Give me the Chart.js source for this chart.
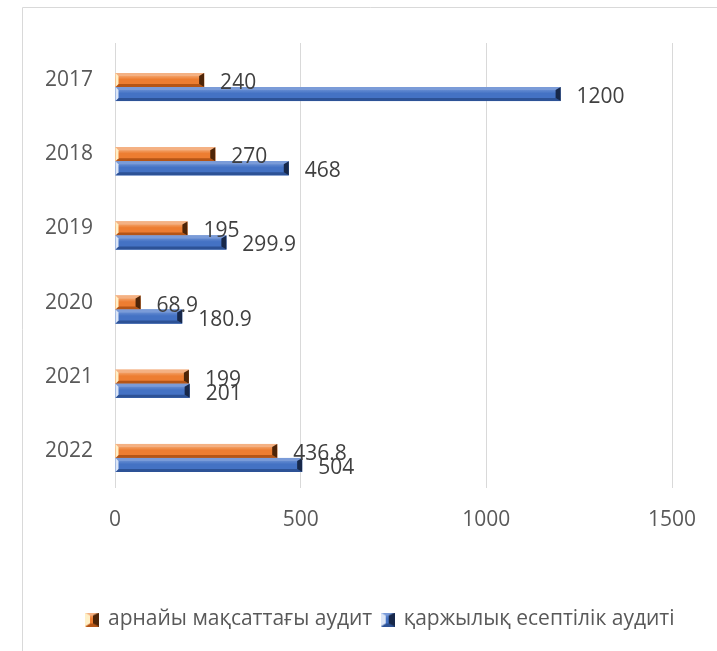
<!DOCTYPE html>
<html>
<head>
<meta charset="utf-8">
<script src="https://cdn.jsdelivr.net/npm/chart.js@4/dist/chart.umd.min.js"></script>
<style>
  html, body { margin: 0; padding: 0; background: #ffffff; }
  #wrap { width: 717px; height: 651px; position: relative; }
</style>
</head>
<body>
<div id="wrap"><canvas id="chart" width="717" height="651"></canvas></div>
<script>
// Audit counts by year
const years = ['2017', '2018', '2019', '2020', '2021', '2022'];
const specialAudit = [240, 270, 195, 68.9, 199, 436.8];
const financialAudit = [1200, 468, 299.9, 180.9, 201, 504];
const emptySlot = [null, null, null, null, null, null];
const xTicks = [0, 500, 1000, 1500];

const seriesNames = ['арнайы мақсаттағы аудит', 'қаржылық есептілік аудиті'];

// Bevel palettes: base, top face, bottom face, left face, right face
const orangeBevel = { base: '#ED7D31', light: '#F7BD92', top: '#F4B183', bottom: '#B55516', left: '#FFF0C8', right: '#4E2508' };
const blueBevel = { base: '#4472C4', light: '#7E9FDB', top: '#7A9BD8', bottom: '#2D5296', left: '#DCE6F7', right: '#17284A' };

function drawBevelRect(ctx, L, T, R, B, pal, dl, dr, dv) {
  const w = R - L;
  dl = Math.min(dl, w / 2); dr = Math.min(dr, w / 2);
  const iL = L + dl, iR = R - dr, iT = T + dv, iB = B - dv;
  // centre face with a soft vertical shading
  const g = ctx.createLinearGradient(0, T, 0, B);
  g.addColorStop(0, pal.light);
  g.addColorStop(0.45, pal.base);
  g.addColorStop(1, pal.base);
  ctx.fillStyle = g;
  ctx.fillRect(L, T, w, B - T);
  const poly = (pts, col) => {
    ctx.beginPath();
    ctx.moveTo(pts[0][0], pts[0][1]);
    for (let i = 1; i < pts.length; i++) ctx.lineTo(pts[i][0], pts[i][1]);
    ctx.closePath();
    ctx.fillStyle = col;
    ctx.fill();
  };
  poly([[L, T], [R, T], [iR, iT], [iL, iT]], pal.top);
  poly([[L, B], [R, B], [iR, iB], [iL, iB]], pal.bottom);
  poly([[L, T], [iL, iT], [iL, iB], [L, B]], pal.left);
  poly([[R, T], [iR, iT], [iR, iB], [R, B]], pal.right);
}

function legendMarker(pal) {
  const c = document.createElement('canvas');
  c.width = 14; c.height = 14;
  const ctx = c.getContext('2d');
  drawBevelRect(ctx, 0, 0, 14, 14, pal, 5, 6, 3);
  return c;
}

const palettes = [null, orangeBevel, blueBevel];

// Frame around the chart, and a legend box that starts right of the frame
const framePlugin = {
  id: 'frame',
  afterLayout(chart) {
    const lg = chart.legend;
    if (lg) { lg.left = 44; lg.right = 717; }
  },
  beforeDraw(chart) {
    const ctx = chart.ctx;
    ctx.save();
    ctx.strokeStyle = '#D9D9D9';
    ctx.lineWidth = 1;
    ctx.beginPath();
    ctx.moveTo(22.5, 660);
    ctx.lineTo(22.5, 7.5);
    ctx.lineTo(720, 7.5);
    ctx.stroke();
    ctx.restore();
  }
};

// Bevelled bar faces and value labels
const bevelPlugin = {
  id: 'bevel',
  afterDatasetsDraw(chart) {
    const ctx = chart.ctx;
    ctx.save();
    chart.data.datasets.forEach((ds, di) => {
      const pal = palettes[di];
      if (!pal) return;
      const meta = chart.getDatasetMeta(di);
      meta.data.forEach((el, i) => {
        const v = ds.data[i];
        if (v === null || v === undefined) return;
        const p = el.getProps(['x', 'y', 'base', 'height'], true);
        const T = p.y - p.height / 2, B = p.y + p.height / 2;
        drawBevelRect(ctx, Math.min(p.base, p.x), T, Math.max(p.base, p.x), B, pal, 3, 5, 3);
      });
    });
    ctx.font = '21px "Open Sans"';
    ctx.fillStyle = '#404040';
    ctx.textAlign = 'left';
    ctx.textBaseline = 'middle';
    chart.data.datasets.forEach((ds, di) => {
      if (!palettes[di]) return;
      const meta = chart.getDatasetMeta(di);
      meta.data.forEach((el, i) => {
        const v = ds.data[i];
        if (v === null || v === undefined) return;
        const p = el.getProps(['x', 'y'], true);
        ctx.fillText(String(v), p.x + 16, p.y + 3);
      });
    });
    ctx.restore();
  }
};

const ctx = document.getElementById('chart').getContext('2d');
new Chart(ctx, {
  type: 'bar',
  data: {
    labels: years,
    datasets: [
      { label: '', data: emptySlot, backgroundColor: 'rgba(0,0,0,0)' },
      { label: seriesNames[0], data: specialAudit, backgroundColor: orangeBevel.base, pointStyle: legendMarker(orangeBevel) },
      { label: seriesNames[1], data: financialAudit, backgroundColor: blueBevel.base, pointStyle: legendMarker(blueBevel) }
    ]
  },
  options: {
    indexAxis: 'y',
    responsive: false,
    animation: false,
    devicePixelRatio: 1,
    layout: { padding: { top: 43, left: 0, right: 45, bottom: 11 } },
    datasets: { bar: { barPercentage: 1, categoryPercentage: 0.566 } },
    scales: {
      x: {
        min: 0,
        max: 1500,
        afterBuildTicks(scale) { scale.ticks = xTicks.map(v => ({ value: v })); },
        afterFit(scale) { scale.height = 111; },
        grid: { color: '#D9D9D9', lineWidth: 1, drawTicks: false },
        border: { display: false },
        ticks: { padding: 19, color: '#595959', font: { family: 'Open Sans', size: 21 }, callback: v => String(v) }
      },
      y: {
        afterFit(scale) { scale.width = 115; },
        grid: { display: false, drawTicks: false },
        border: { display: false },
        ticks: { padding: 22, color: '#595959', font: { family: 'Open Sans', size: 21 } }
      }
    },
    plugins: {
      legend: {
        position: 'bottom',
        labels: {
          usePointStyle: true,
          boxWidth: 11,
          padding: 10,
          color: '#595959',
          font: { family: 'Open Sans', size: 21 },
          filter: item => item.text !== ''
        }
      },
      tooltip: { enabled: false }
    }
  },
  plugins: [framePlugin, bevelPlugin]
});
</script>
</body>
</html>
